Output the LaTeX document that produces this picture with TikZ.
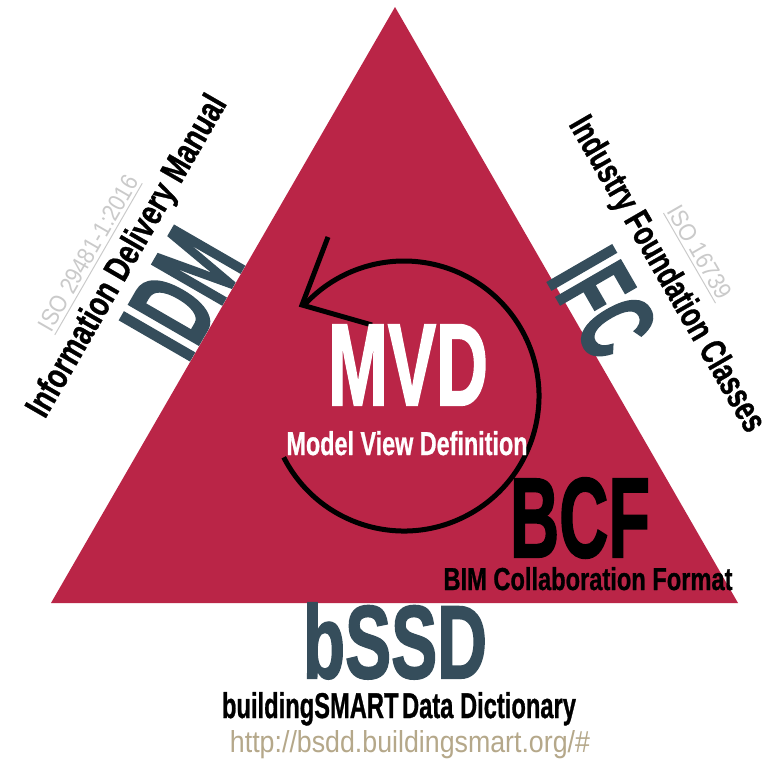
\documentclass[tikz,border=0pt]{standalone}
\usepackage{fontspec}
\usepackage{graphicx}
\setmainfont{Liberation Sans}
\newfontfamily\heavyfont[FakeBold=2]{Liberation Sans}
\newfontfamily\midfont[FakeBold=1]{Liberation Sans}
\definecolor{crim}{HTML}{BA2547}
\definecolor{slate}{HTML}{354D5B}
\definecolor{isogray}{HTML}{CACACA}
\definecolor{linktan}{HTML}{B5A88A}
\newcommand{\fitbox}[3]{\resizebox{#1pt}{#2pt}{#3}}
\begin{document}
\begin{tikzpicture}[x=1pt,y=1pt,
  lbl/.style={inner sep=0pt, outer sep=0pt, text depth=0pt},
  loopline/.style={line width=5pt, draw=black}]
\useasboundingbox (0,0) rectangle (771,-769);
\fill[white] (0,0) rectangle (771,-769);
% triangle
\coordinate (apex) at (395,-7);
\coordinate (bl) at (51,-603);
\coordinate (br) at (738,-603);
\fill[crim] (apex) -- (bl) -- (br) -- cycle;
% IDM side
\node[lbl, rotate=60, text=slate] (idm) at (182,-293) {\fitbox{118}{80}{\heavyfont\bfseries IDM}};
\node[lbl, rotate=60] (idmname) at (125,-255) {\fitbox{365}{26}{\midfont\bfseries Information Delivery Manual}};
\node[lbl, rotate=60, text=isogray] (idmiso) at (88,-253) {\fitbox{175}{17}{\underline{ISO 29481-1:2016}}};
% IFC side
\node[lbl, rotate=-60, text=slate] (ifc) at (603,-303) {\fitbox{100}{75}{\heavyfont\bfseries IFC}};
\node[lbl, rotate=-60] (ifcname) at (669,-273) {\fitbox{358}{26}{\midfont\bfseries Industry Foundation Classes}};
\node[lbl, rotate=-60, text=isogray] (ifciso) at (700,-252) {\fitbox{104}{17}{\underline{ISO 16739}}};
% loop arrow
\coordinate (ctr) at (404,-396);
\coordinate (tip) at (302,-305);
\coordinate (armA) at (328,-237);
\coordinate (armB) at (372,-325);
\draw[loopline] (ctr) ++(-153:135) arc[start angle=-153, end angle=138, radius=135];
\draw[loopline] (armA) -- (tip) -- (armB);
% MVD
\node[lbl, anchor=base, text=white] (mvd) at (408,-405) {\fitbox{160}{80}{\heavyfont\bfseries MVD}};
\node[lbl, anchor=base, text=white] (mvdname) at (407,-455) {\fitbox{241}{24}{\midfont\bfseries Model View Definition}};
% BCF
\node[lbl, anchor=base] (bcf) at (580,-557) {\fitbox{140}{79}{\heavyfont\bfseries BCF}};
\node[lbl, anchor=base] (bcfname) at (588,-590) {\fitbox{289}{23}{\midfont\bfseries BIM Collaboration Format}};
% bSSD
\node[lbl, anchor=base, text=slate] (bssd) at (395,-678) {\fitbox{184}{75}{\heavyfont\bfseries bSSD}};
\node[lbl, anchor=base] (bssdname) at (399,-718) {\fitbox{354}{26}{\midfont\bfseries buildingSMART\hspace{0.15em}Data Dictionary}};
\node[lbl, anchor=base, text=linktan] (url) at (410,-752) {\fitbox{360}{22}{http://bsdd.buildingsmart.org/\#}};
\end{tikzpicture}
\end{document}
